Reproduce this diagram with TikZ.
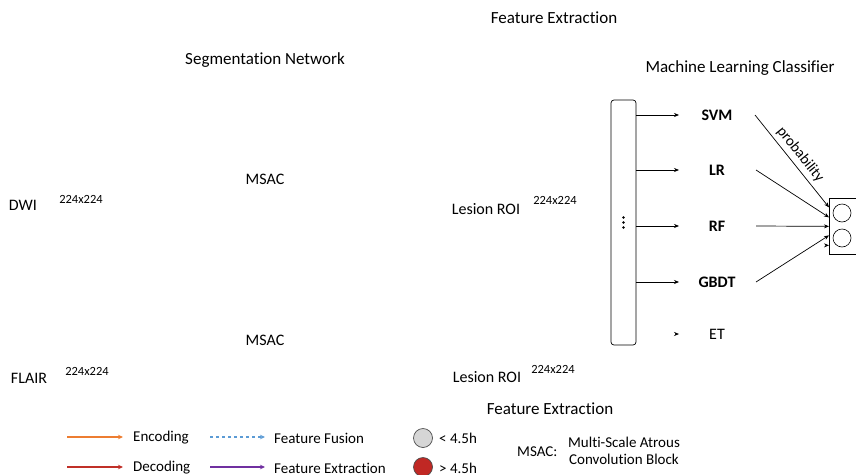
\documentclass[tikz,border=0pt]{standalone}
\usepackage{fontspec}
\setmainfont{Carlito}[Ligatures=NoCommon]
\usetikzlibrary{arrows.meta}
\definecolor{encorange}{RGB}{237,125,49}
\definecolor{decred}{RGB}{192,48,40}
\definecolor{fusblue}{RGB}{91,155,213}
\definecolor{extpurple}{RGB}{112,48,160}
\definecolor{lowgray}{RGB}{214,214,214}
\definecolor{highred}{RGB}{192,40,36}
\begin{document}
\begin{tikzpicture}[x=1pt, y=-1pt,
        title/.style={inner sep=0pt, font=\fontsize{17}{20}\selectfont},
        label/.style={inner sep=0pt, font=\fontsize{16}{19}\selectfont},
        sizelabel/.style={inner sep=0pt, font=\fontsize{12.5}{15}\selectfont},
        clf/.style={inner sep=0pt, font=\bfseries\fontsize{16}{19}\selectfont},
        legtext/.style={inner sep=0pt, anchor=west, font=\fontsize{15}{18}\selectfont},
        arrow/.style={->, >={Stealth[length=5pt,width=4pt]}, line width=0.7pt},
        legarrow/.style={->, >={Stealth[length=5pt,width=4.5pt]}, line width=1.2pt},
        probcircle/.style={draw, circle, minimum size=18pt, inner sep=0pt, line width=0.6pt},
        keycircle/.style={draw=black!70, circle, minimum size=19pt, inner sep=0pt, line width=0.7pt}
    ]
    \useasboundingbox (0,0) rectangle (856,474);

    % --- Titles ---
    \node[title] (fetop) at (554,18) {Feature Extraction};
    \node[title] (segnet) at (265,60) {Segmentation Network};
    \node[title] (mlc) at (740,68) {Machine Learning Classifier};

    % --- Segmentation inputs ---
    \node[label] (dwi) at (23,205) {DWI};
    \node[sizelabel] (dwisize) at (81,199) {224x224};
    \node[label] (flair) at (29,378) {FLAIR};
    \node[sizelabel] (flairsize) at (87,371) {224x224};
    \node[label] (msactop) at (265,179) {MSAC};
    \node[label] (msacbot) at (265,340) {MSAC};

    % --- Lesion ROIs ---
    \node[label] (roitop) at (486,209) {Lesion ROI};
    \node[sizelabel] (roitopsize) at (555,200) {224x224};
    \node[label] (roibot) at (487,377) {Lesion ROI};
    \node[sizelabel] (roibotsize) at (553,369) {224x224};
    \node[title] (febot) at (550,409) {Feature Extraction};

    % --- Feature panel ---
    \node[draw, rounded corners=3pt, line width=0.7pt, minimum width=25pt, minimum height=245pt, inner sep=0pt] (panel) at (623.5,222.5) {};
    \foreach \d in {-5,0,5}
        \fill ([yshift=\d pt]panel.center) circle (1.3pt);

    % --- Classifiers ---
    \node[clf] (svm) at (717,115) {SVM};
    \node[clf] (lr) at (717,170) {LR};
    \node[clf] (rf) at (717,226) {RF};
    \node[clf] (gbdt) at (717,282) {GBDT};
    \node[label] (et) at (717,334) {ET};

    % --- Output box ---
    \node[draw, line width=0.7pt, minimum width=40pt, minimum height=56pt, inner sep=0pt, anchor=north west] (outbox) at (829,198) {};
    \node[probcircle] (pone) at (842,213) {};
    \node[probcircle] (ptwo) at (842,238) {};

    % --- ARROWS ---
    \coordinate (svmin) at (679,115);
    \coordinate (lrin) at (679,170);
    \coordinate (rfin) at (679,226);
    \coordinate (gbdtin) at (679,282);
    \coordinate (etin) at (679,334);
    \coordinate (svmout) at (755,115);
    \coordinate (lrout) at (756,170);
    \coordinate (rfout) at (756,226);
    \coordinate (gbdtout) at (756,282);
    \foreach \n in {svmin, lrin, rfin, gbdtin}
        \draw[arrow] (panel.east |- \n) -- (\n);
    \draw[arrow] ([xshift=-3pt]etin) -- (etin);

    \draw[arrow] (svmout) -- node[sloped, above, pos=0.5, inner sep=4pt, font=\fontsize{15}{18}\selectfont] {probability} ([yshift=19pt]outbox.west);
    \draw[arrow] (lrout) -- ([yshift=9pt]outbox.west);
    \draw[arrow] (rfout) -- (outbox.west);
    \draw[arrow] (gbdtout) -- ([yshift=-9pt]outbox.west);
    \draw[arrow] ([xshift=-3pt,yshift=-19pt]outbox.west) -- ([yshift=-19pt]outbox.west);

    % --- Legend ---
    \node[legtext] (enc) at (133,438) {Encoding};
    \node[legtext] (dec) at (133,468) {Decoding};
    \node[legtext] (fus) at (274,438) {Feature Fusion};
    \node[legtext] (ext) at (274,468) {Feature Extraction};
    \coordinate (encstart) at (67,437);
    \coordinate (decstart) at (67,467);
    \coordinate (fusstart) at (210,437);
    \coordinate (extstart) at (210,467);
    \draw[legarrow, encorange] (encstart) -- ([xshift=-10pt]enc.west |- encstart);
    \draw[legarrow, decred] (decstart) -- ([xshift=-10pt]dec.west |- decstart);
    \draw[legarrow, fusblue, dashed] (fusstart) -- ([xshift=-9pt]fus.west |- fusstart);
    \draw[legarrow, extpurple] (extstart) -- ([xshift=-9pt]ext.west |- extstart);

    \node[keycircle, fill=lowgray] (lowkey) at (423,438) {};
    \node[keycircle, fill=highred] (highkey) at (423,467) {};
    \node[legtext] (lowtext) at (439,438) {< 4.5h};
    \node[legtext] (hightext) at (439,468) {> 4.5h};

    \node[legtext] (msackey) at (517,452) {MSAC:};
    \node[inner sep=0pt, align=center, font=\fontsize{15}{17.5}\selectfont] (msacdesc) at (624,451) {Multi-Scale Atrous\\Convolution Block};

    \end{tikzpicture}
\end{document}
